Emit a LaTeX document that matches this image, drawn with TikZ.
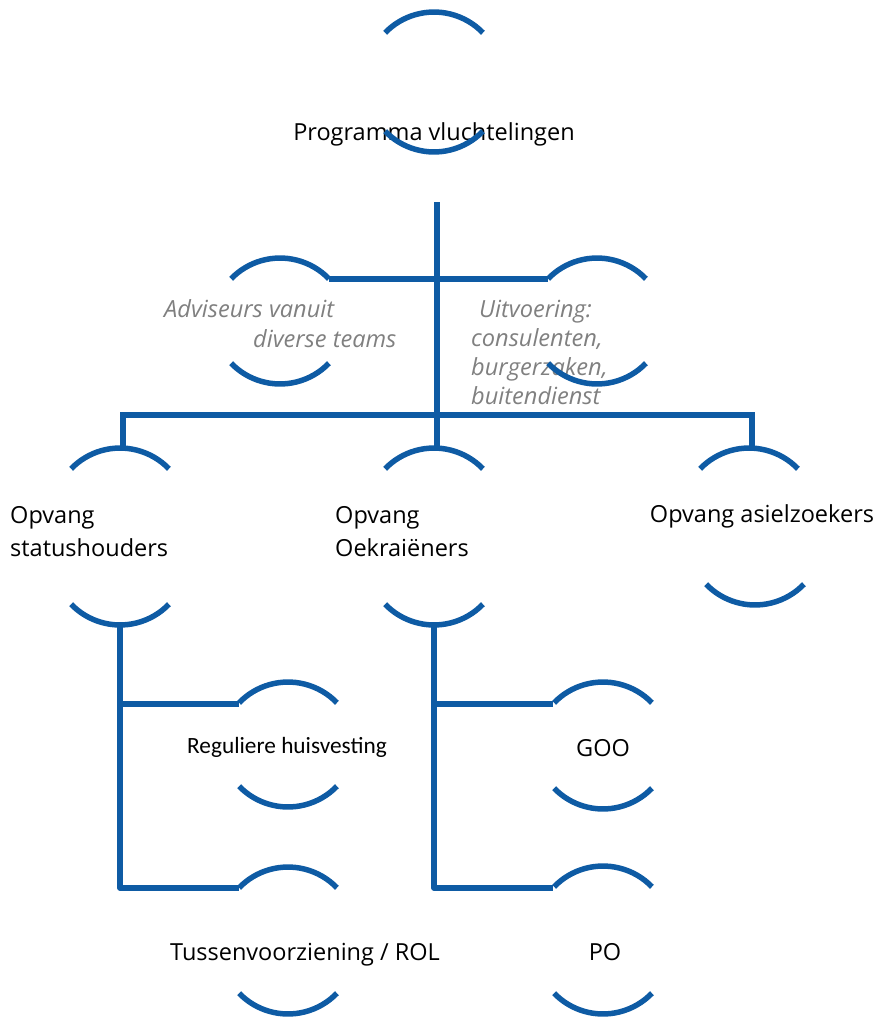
\documentclass[tikz,border=0pt]{standalone}
\usepackage{fontspec}
\setmainfont{Open Sans}
\newfontfamily\calibrifont{Carlito}
\usetikzlibrary{positioning}
\definecolor{orgblue}{RGB}{14,91,164}
\definecolor{notegray}{RGB}{128,128,128}
\tikzset{
  link/.style={draw=orgblue, line width=5.5pt},
  ring/.style={draw=orgblue, line width=5.5pt},
  toparc/.pic={\draw[ring] (-48.9,-20.8) arc[start angle=136, end angle=44, radius=68pt];},
  botarc/.pic={\draw[ring] (-48.9,20.8) arc[start angle=224, end angle=316, radius=68pt];},
  box/.style={font=\fontsize{23.5}{33}\selectfont, inner sep=0pt, align=left},
  note/.style={font=\fontsize{23.6}{29}\selectfont\itshape, text=notegray, inner sep=0pt, align=left},
}

\begin{document}
\begin{tikzpicture}[x=1pt, y=1pt]
  \useasboundingbox (0,0) rectangle (879,-1017);

  % texts
  \node[box, anchor=base] (prog) at (434,-140) {Programma vluchtelingen};
  \node[note, anchor=base west] (adv) at (164,-347) {Adviseurs vanuit\\[1pt]\hspace*{89pt}diverse teams};
  \node[note, anchor=base west] (uit) at (471,-404) {\hspace*{8pt}Uitvoering:\\consulenten,\\burgerzaken,\\buitendienst};
  \node[box, anchor=base west] (stat) at (10,-556) {Opvang\\statushouders};
  \node[box, anchor=base west] (oek) at (335,-556) {Opvang\\Oekraiëners};
  \node[box, anchor=base] (asiel) at (762,-522) {Opvang asielzoekers};
  \node[box, font=\calibrifont\fontsize{23.3}{28}\selectfont, anchor=base] (reg) at (287,-753) {Reguliere huisvesting};
  \node[box, anchor=base] (goo) at (603,-756) {GOO};
  \node[box, anchor=base] (tus) at (305,-960) {Tussenvoorziening / ROL};
  \node[box, anchor=base] (po) at (605,-960) {PO};

  % arc apexes
  \coordinate (progT) at (434,-12);   \coordinate (progB) at (434,-152);
  \coordinate (advT) at (280,-258);   \coordinate (advB) at (280,-384);
  \coordinate (uitT) at (597,-258);   \coordinate (uitB) at (597,-384);
  \coordinate (statT) at (120,-448);  \coordinate (statB) at (120,-625);
  \coordinate (oekT) at (434,-448);   \coordinate (oekB) at (434,-625);
  \coordinate (asielT) at (749,-448); \coordinate (asielB) at (755,-605);
  \coordinate (regT) at (288,-682);   \coordinate (regB) at (288,-807);
  \coordinate (gooT) at (603,-682);   \coordinate (gooB) at (603,-809);
  \coordinate (tusT) at (288,-867);   \coordinate (tusB) at (288,-1014);
  \coordinate (poT) at (603,-866);    \coordinate (poB) at (603,-1014);

  \foreach \n in {prog,adv,uit,stat,oek,asiel,reg,goo,tus,po}{
    \pic at (\n T) {toparc};
    \pic at (\n B) {botarc};
  }

  % joints
  \coordinate (stem) at (437,-202);
  \coordinate (advE) at (329,-279);
  \coordinate (uitW) at (548,-279);
  \coordinate (barL) at (123,-415);
  \coordinate (barR) at (752,-415);
  \coordinate (regW) at (239,-704);
  \coordinate (tusW) at (239,-888);
  \coordinate (gooW) at (553,-704);
  \coordinate (poW) at (553,-888);

  % connectors
  \draw[link] (stem) -- (stem |- oekT);
  \draw[link] (advE) -- (uitW);
  \draw[link] (barL |- statT) -- (barL) -- (barR) -- (barR |- asielT);
  \draw[link, line join=round] (statB) -- (statB |- tusW) -- (tusW);
  \draw[link] (statB |- regW) -- (regW);
  \draw[link, line join=round] (oekB) -- (oekB |- poW) -- (poW);
  \draw[link] (oekB |- gooW) -- (gooW);
\end{tikzpicture}
\end{document}
